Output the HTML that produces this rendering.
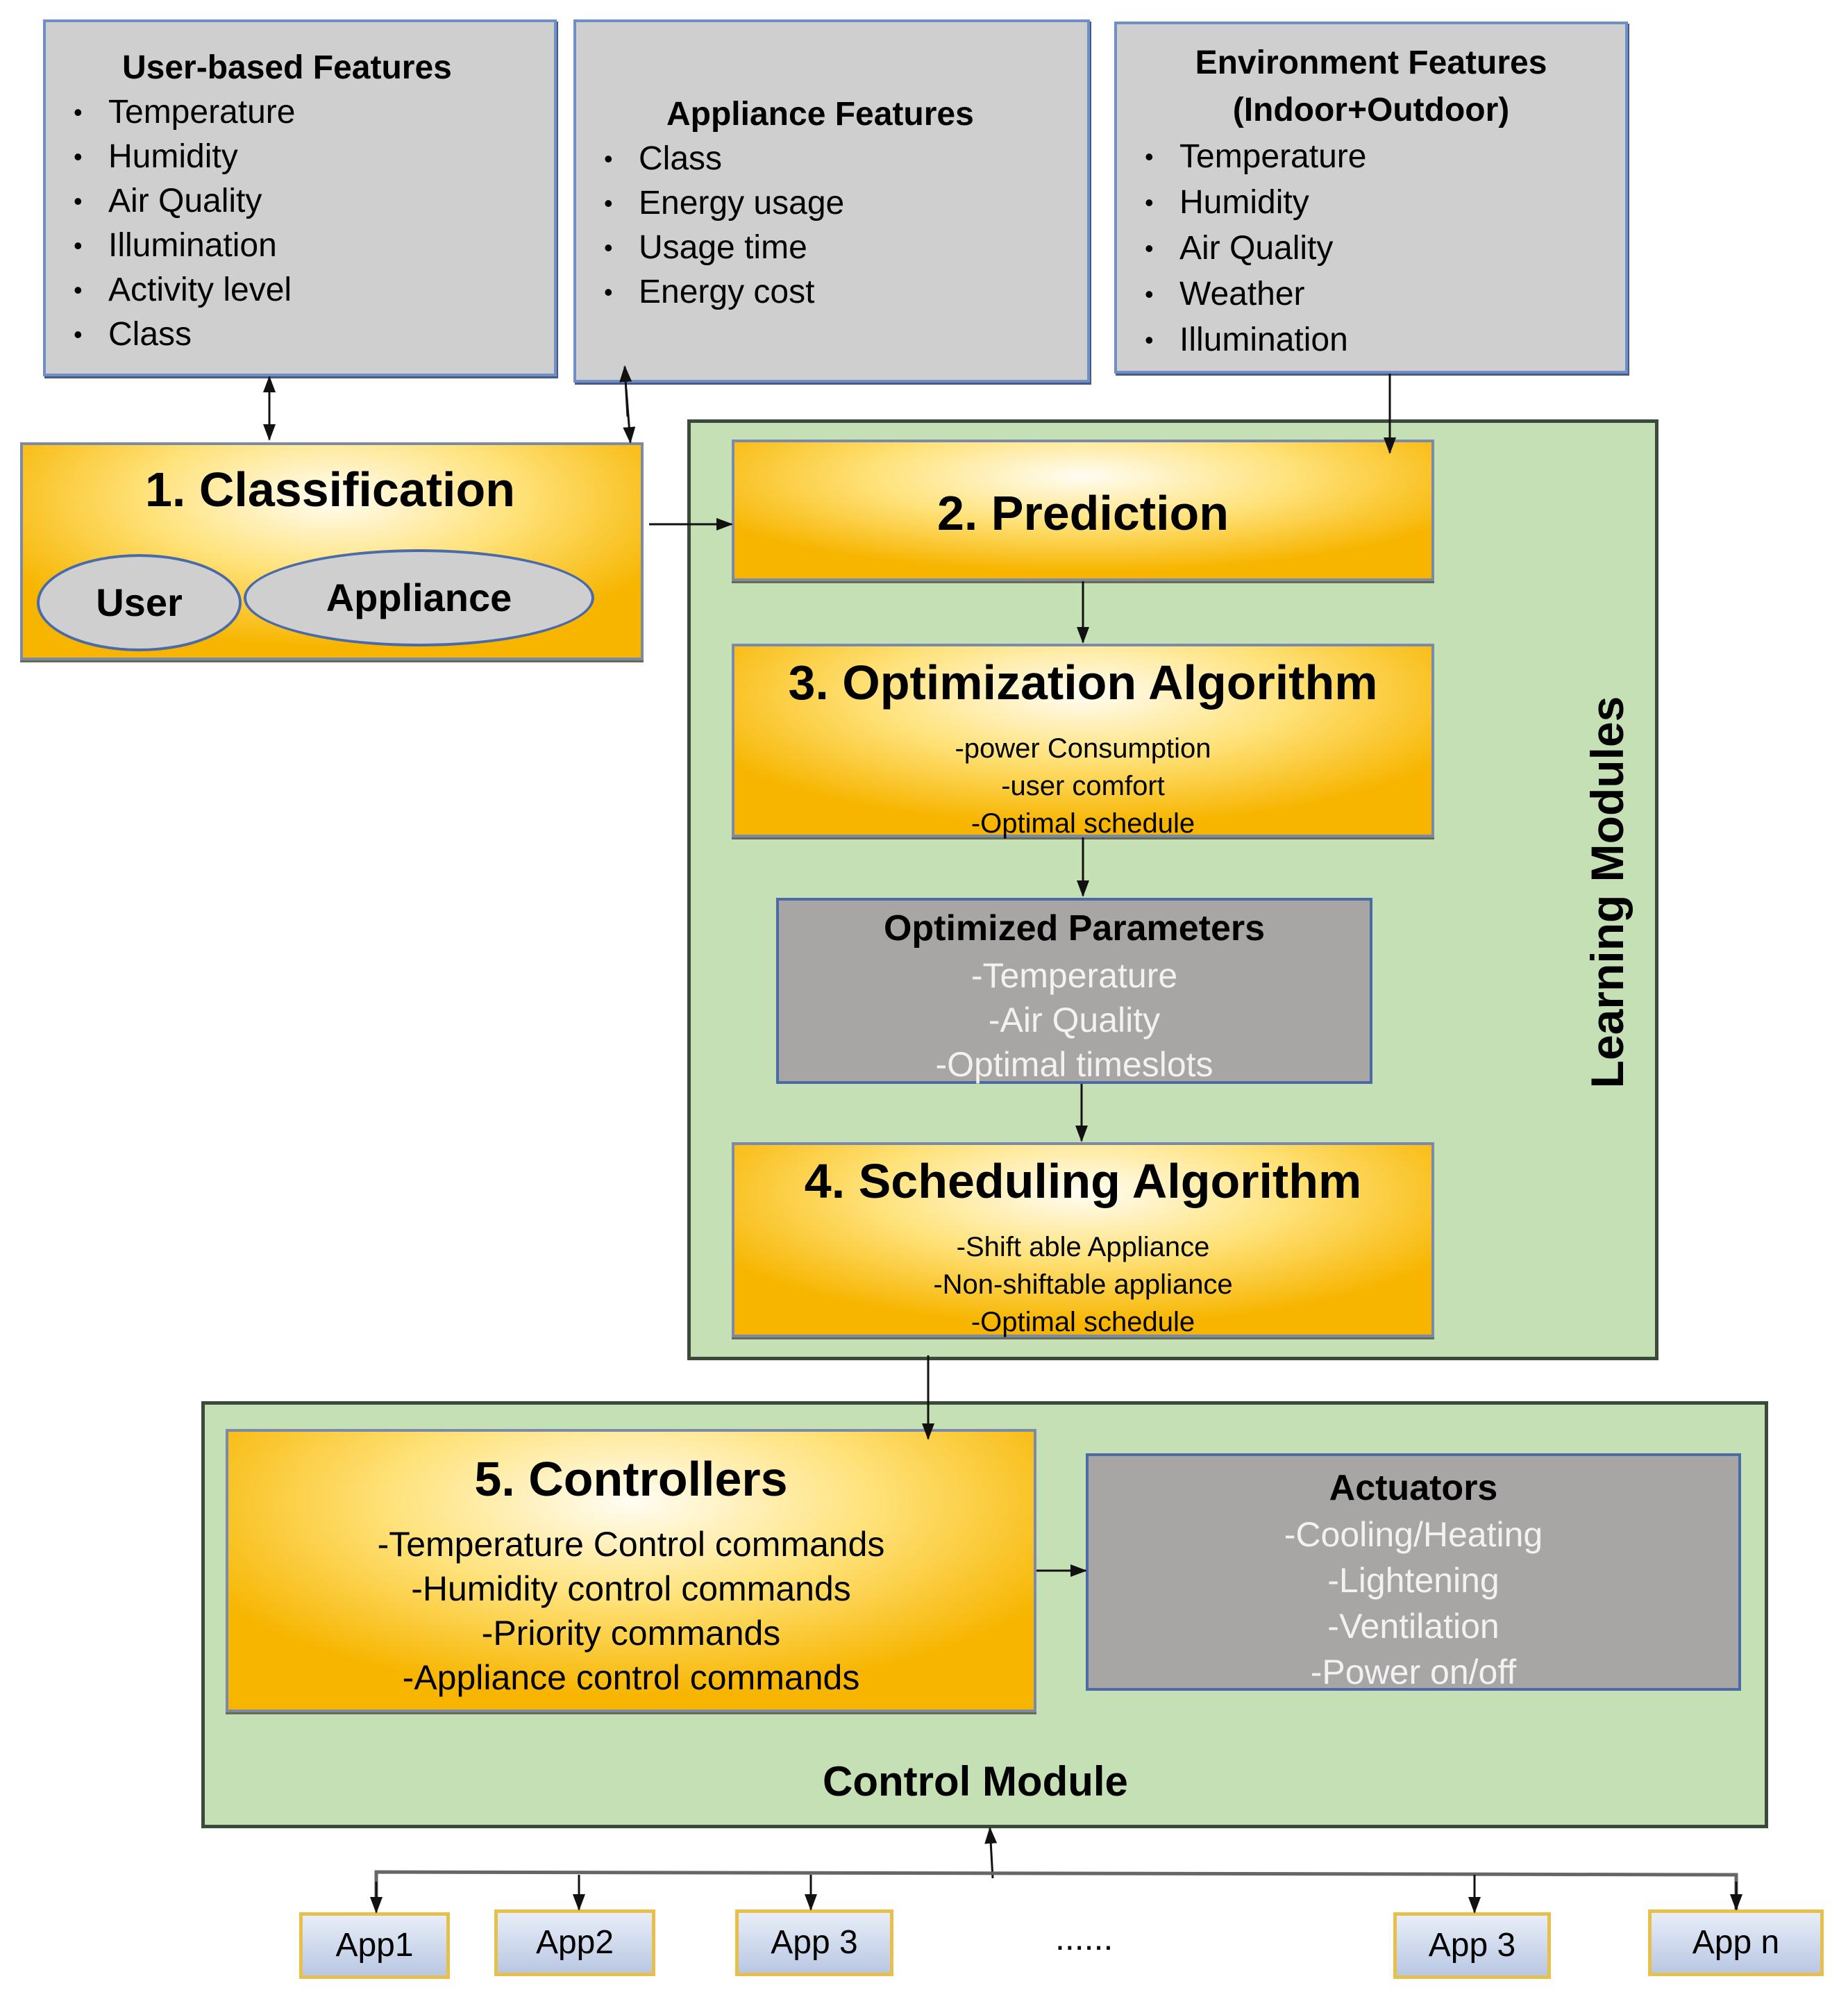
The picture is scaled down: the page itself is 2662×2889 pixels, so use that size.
<!DOCTYPE html>
<html><head><meta charset="utf-8"><style>
body{margin:0;width:2662px;height:2889px;background:#fff;position:relative;font-family:"Liberation Sans","Noto Sans CJK KR",sans-serif;overflow:hidden}
.a{position:absolute;box-sizing:border-box}
.gray{background:#d0cfcf;border:4px solid #6f8fc8;box-shadow:2px 3px 0 #4a5a80}
.dg{background:#a8a5a5;border:4px solid #4a6aa8}
.yel{background:radial-gradient(ellipse 60% 70% at 50% 25%,#fffdf4 0%,#ffe27a 50%,#f7b500 100%);border:4px solid #7b8aa8;box-shadow:0 3px 0 #6a6a50}
.grn{background:#c5e0b4;border:5px solid #3a4a3a}
.t{position:absolute;white-space:nowrap}
ul{margin:0;padding:0;list-style:none}
li{position:relative;padding-left:70px;font-size:48px;line-height:64px}
li:before{content:"•";position:absolute;left:20px;font-size:36px}
.c{text-align:center;left:0;right:0}
.app{background:linear-gradient(#e8eef8,#b9c7e3);border:5px solid #e6c04a;font-size:48px;text-align:center;line-height:86px}
</style></head><body>

<div class="a gray" style="left:62px;top:28px;width:740px;height:514px">
 <div class="t" style="left:110px;top:38px;font-size:48px;font-weight:bold">User-based Features</div>
 <ul class="t" style="left:20px;top:98px"><li>Temperature</li><li>Humidity</li><li>Air Quality</li><li>Illumination</li><li>Activity level</li><li>Class</li></ul>
</div>
<div class="a gray" style="left:826px;top:28px;width:744px;height:523px">
 <div class="t" style="left:130px;top:105px;font-size:48px;font-weight:bold">Appliance Features</div>
 <ul class="t" style="left:20px;top:165px"><li>Class</li><li>Energy usage</li><li>Usage time</li><li>Energy cost</li></ul>
</div>
<div class="a gray" style="left:1605px;top:31px;width:740px;height:507px">
 <div class="t c" style="top:22px;font-size:48px;font-weight:bold;line-height:68px">Environment Features<br>(Indoor+Outdoor)</div>
 <ul class="t" style="left:20px;top:158px"><li style="line-height:66px">Temperature</li><li style="line-height:66px">Humidity</li><li style="line-height:66px">Air Quality</li><li style="line-height:66px">Weather</li><li style="line-height:66px">Illumination</li></ul>
</div>

<div class="a yel" style="left:29px;top:637px;width:898px;height:314px">
 <div class="t" style="left:176px;top:24px;font-size:70px;font-weight:bold">1. Classification</div>
 <div class="a" style="left:20px;top:157px;width:295px;height:140px;border:4px solid #4a6aa8;border-radius:50%;background:#d0cfcf;font-size:56px;font-weight:bold;text-align:center;line-height:132px">User</div>
 <div class="a" style="left:318px;top:150px;width:505px;height:140px;border:4px solid #4a6aa8;border-radius:50%;background:#d0cfcf;font-size:56px;font-weight:bold;text-align:center;line-height:132px">Appliance</div>
</div>

<div class="a grn" style="left:990px;top:604px;width:1399px;height:1355px">
 <div class="t" style="left:1320px;top:676px;transform:translate(-50%,-50%) rotate(-90deg);font-size:66px;font-weight:bold">Learning Modules</div>
</div>
<div class="a yel" style="left:1054px;top:633px;width:1012px;height:204px">
 <div class="t c" style="top:62px;font-size:70px;font-weight:bold">2. Prediction</div>
</div>
<div class="a yel" style="left:1054px;top:927px;width:1012px;height:279px">
 <div class="t c" style="top:12px;font-size:70px;font-weight:bold">3. Optimization Algorithm</div>
 <div class="t c" style="top:120px;font-size:40px;line-height:54px">-power Consumption<br>-user comfort<br>-Optimal schedule</div>
</div>
<div class="a dg" style="left:1118px;top:1293px;width:859px;height:268px">
 <div class="t c" style="top:10px;font-size:52px;font-weight:bold">Optimized Parameters</div>
 <div class="t c" style="top:76px;font-size:50px;line-height:64px;color:#f2f2f2">-Temperature<br>-Air Quality<br>-Optimal timeslots</div>
</div>
<div class="a yel" style="left:1054px;top:1645px;width:1012px;height:281px">
 <div class="t c" style="top:12px;font-size:70px;font-weight:bold">4. Scheduling Algorithm</div>
 <div class="t c" style="top:120px;font-size:40px;line-height:54px">-Shift able Appliance<br>-Non-shiftable appliance<br>-Optimal schedule</div>
</div>

<div class="a grn" style="left:290px;top:2018px;width:2257px;height:615px">
 <div class="t" style="left:890px;top:508px;font-size:60px;font-weight:bold">Control Module</div>
</div>
<div class="a yel" style="left:325px;top:2058px;width:1168px;height:408px">
 <div class="t c" style="top:28px;font-size:70px;font-weight:bold">5. Controllers</div>
 <div class="t c" style="top:130px;font-size:50px;line-height:64px">-Temperature Control commands<br>-Humidity control commands<br>-Priority commands<br>-Appliance control commands</div>
</div>
<div class="a dg" style="left:1564px;top:2093px;width:944px;height:342px">
 <div class="t c" style="top:16px;font-size:52px;font-weight:bold">Actuators</div>
 <div class="t c" style="top:80px;font-size:50px;line-height:66px;color:#f2f2f2">-Cooling/Heating<br>-Lightening<br>-Ventilation<br>-Power on/off</div>
</div>

<div class="a app" style="left:431px;top:2754px;width:217px;height:96px">App1</div>
<div class="a app" style="left:712px;top:2750px;width:232px;height:96px">App2</div>
<div class="a app" style="left:1059px;top:2750px;width:228px;height:96px">App 3</div>
<div class="t" style="left:1520px;top:2762px;font-size:50px">......</div>
<div class="a app" style="left:2007px;top:2754px;width:227px;height:96px">App 3</div>
<div class="a app" style="left:2374px;top:2750px;width:253px;height:96px">App n</div>

<svg class="a" style="left:0;top:0" width="2662" height="2889">
<defs><marker id="m" markerWidth="10" markerHeight="10" refX="9" refY="5" orient="auto" markerUnits="userSpaceOnUse" viewBox="0 0 10 10"><path d="M0,0L10,5L0,10z" fill="#111"/></marker>
<marker id="mb" markerWidth="24" markerHeight="24" refX="22" refY="12" orient="auto" markerUnits="userSpaceOnUse" viewBox="0 0 24 24"><path d="M0,3L24,12L0,21z" fill="#111"/></marker></defs>
<g stroke="#111" stroke-width="3" fill="none">
<line x1="388" y1="595" x2="388" y2="543" marker-end="url(#mb)"/>
<line x1="388" y1="560" x2="388" y2="633" marker-end="url(#mb)"/>
<line x1="904" y1="600" x2="900" y2="528" marker-end="url(#mb)"/>
<line x1="902" y1="560" x2="908" y2="637" marker-end="url(#mb)"/>
<line x1="2002" y1="538" x2="2002" y2="652" marker-end="url(#mb)"/>
<line x1="935" y1="755" x2="1054" y2="755" marker-end="url(#mb)"/>
<line x1="1560" y1="837" x2="1560" y2="925" marker-end="url(#mb)"/>
<line x1="1560" y1="1206" x2="1560" y2="1290" marker-end="url(#mb)"/>
<line x1="1558" y1="1561" x2="1558" y2="1643" marker-end="url(#mb)"/>
<line x1="1337" y1="1952" x2="1337" y2="2072" marker-end="url(#mb)"/>
<line x1="1493" y1="2262" x2="1564" y2="2262" marker-end="url(#mb)"/>
<line x1="1430" y1="2705" x2="1426" y2="2633" marker-end="url(#mb)"/>
<polyline points="542,2750 542,2696 2501,2700 2501,2750" stroke="#666" stroke-width="5"/>
<line x1="542" y1="2710" x2="542" y2="2754" marker-end="url(#mb)"/>
<line x1="834" y1="2700" x2="834" y2="2750" marker-end="url(#mb)"/>
<line x1="1168" y1="2700" x2="1168" y2="2750" marker-end="url(#mb)"/>
<line x1="2124" y1="2700" x2="2124" y2="2754" marker-end="url(#mb)"/>
<line x1="2501" y1="2710" x2="2501" y2="2750" marker-end="url(#mb)"/>
</g></svg>
</body></html>
